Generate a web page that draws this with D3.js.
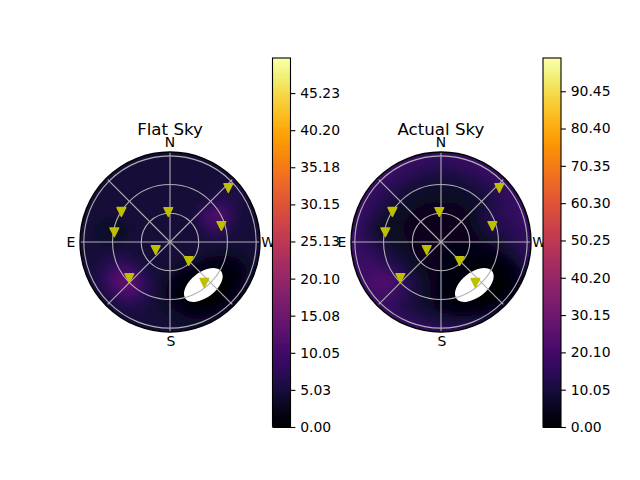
<!DOCTYPE html>
<html>
<head>
<meta charset="utf-8">
<script src="https://d3js.org/d3.v7.min.js"></script>
<style>
body { margin: 0; background: #fff; }
text { font-family: "DejaVu Sans", sans-serif; fill: #000; }
</style>
</head>
<body>
<div id="chart"></div>
<script>
// sky brightness, 17 x 17 samples, rows north to south, columns east to west
const flatSky = [
    [5,5,5,5,5,5,5,5,5,5,5,5,5,5,5,5,5],
    [5,5,5,5,5,5,5,5,5,5,5,5,5,5,5,5,5],
    [5,5,5,5,5,5,5,5,5,5,5,5,5,5,5,5,5],
    [5,5,5,5,5,5,5,5,5,5,5,5,5,5.5,5,5,5],
    [5,5,5,5,5,5,5,5,5,5,5,5,6,6,5.5,5,5],
    [5,5,5,5,5,5,5,5,5,5,5,6.5,8,6.5,5,5,5],
    [5,5,5,4.5,5,5,5,5,5,5,6,12,13,6,5,5,5],
    [5,5,4.5,3.5,3,4.5,5,5,5,5,5.5,8,8,5.5,5,5,5],
    [5,5,5,4,4,5,5,5,5,5,5,5.5,5.5,5,5,5,5],
    [5,5,5,5.5,6.5,5.5,5,5,5,5,5,4,3.5,3.5,4.5,5,5],
    [5,5,5.5,7,10,8,6,5,4.5,3.5,2.5,1,1,1.5,3.5,5,5],
    [5,5,5.5,8,14,16,8,5,3,1,0,0,0,1.5,4,5,5],
    [5,5,5,6,9,11,7.5,5,2.5,0.5,0,0,0.5,2.5,4.5,5,5],
    [5,5,5,5,5.5,6.5,6,4.5,3.5,2,1,1,2.5,4,5,5,5],
    [5,5,5,5,5,5,5,5,4.5,4,3.5,4,4.5,5,5,5,5],
    [5,5,5,5,5,5,5,5,5,5,5,5,5,5,5,5,5],
    [5,5,5,5,5,5,5,5,5,5,5,5,5,5,5,5,5]
];
const actualSky = [
    [18,18,18,18,18,18,18,18,18,18,18,18,18,18,18,18,18],
    [18,18,18,18,18,18,18,18,18,18,18,18,18,18,18,18,18],
    [18,18,18,18,18,18,17,16,15,16,17,18,18,18,18,18,18],
    [18,18,18,18,18,16,13,11,11,11,13,15,17,18,18,18,18],
    [18,18,18,17,14,11,9,8,8,8,9,11,14,17,18,18,18],
    [18,18,18,15,11,8,7,6,6,6,7,9,12,16,18,18,18],
    [18,18,17,12,8,7,5.5,5,5,5,5.5,10,14,15,18,18,18],
    [18,18,15,8,6,6,5.5,5,5,5,5.5,8,13,13,16,18,18],
    [18,18,16,11,8,7,5.5,5,5,5,5,6,8,11,15,18,18],
    [18,18,18,15,12,9,6,5,5,4,4,3.5,4,7,12,17,18],
    [18,18,19,19,16,12,8,6,5,3,2,1,1.5,2.5,6.5,14,18],
    [18,18,20,24,25,17,11,7,4,2,0.5,0,0,1.5,5.5,12,18],
    [18,18,18,20,20,16,11,7,4,1.5,0,0,0.5,2.5,7,13,18],
    [18,18,18,18,17,13,10,8,5,3,2,2.5,4.5,8,12,16,18],
    [18,18,18,18,18,17,15,12,10,9,9,10,12,15,18,18,18],
    [18,18,18,18,18,18,18,18,17,17,17,18,18,18,18,18,18],
    [18,18,18,18,18,18,18,18,18,18,18,18,18,18,18,18,18]
];

// satellites: azimuth (deg, N through E) and zenith angle (deg)
const satAzimuth = [312.8, 58.3, 3.2, 80.1, 287.3, 119.2, 224.5, 131.5, 220];
const satZenith = [83, 59.7, 31.4, 59, 56.2, 17.1, 27.8, 56.7, 55.8];

const compassNames = ["N", "E", "S", "W"];
const zenithTicks = [30, 60, 90];
const gridAzimuths = [0, 45, 90, 135, 180, 225, 270, 315];

const flatTicks = [0, 5.03, 10.05, 15.08, 20.10, 25.13, 30.15, 35.18, 40.20, 45.23];
const actualTicks = [0, 10.05, 20.10, 30.15, 40.20, 50.25, 60.30, 70.35, 80.40, 90.45];

// the masked sun patch
const sunAzimuth = 217.8, sunZenith = 56.8, sunLong = 22.5, sunShort = 12.5, sunTilt = -37.5;

const width = 640, height = 480;
const cy = 242, radius = 90, zenithMax = 94;
const barTop = 58, barBottom = 427, barWidth = 18;
const gridColor = "#b0b0b0", markerColor = "#bfbf00";

const svg = d3.select("#chart").append("svg")
    .attr("width", width)
    .attr("height", height)
    .style("display", "block");

const r = d3.scaleLinear().domain([0, zenithMax]).range([0, radius]);

// sky position to pixel offset, north up and east on the left
function polar(az, zen) {
    const a = az * Math.PI / 180;
    return [-r(zen) * Math.sin(a), -r(zen) * Math.cos(a)];
}

function drawPanel(id, cx, titleText, grid, maxValue, ticks, barX) {
    const color = d3.scaleSequential(d3.interpolateInferno).domain([0, maxValue]);
    const g = svg.append("g").attr("transform", `translate(${cx},${cy})`);

    const defs = g.append("defs");
    defs.append("clipPath").attr("id", "clip-" + id)
        .append("circle").attr("r", radius);
    defs.append("filter").attr("id", "blur-" + id)
        .attr("filterUnits", "userSpaceOnUse")
        .attr("x", -104).attr("y", -104).attr("width", 208).attr("height", 208)
        .append("feGaussianBlur").attr("stdDeviation", 5);

    // heat map
    const n = grid.length;
    const pos = d3.scaleLinear().domain([0, n - 1]).range([-104, 104]);
    const contours = d3.contours()
        .size([n, n])
        .thresholds(d3.range(0, maxValue, maxValue / 200))(grid.flat());
    const path = d3.geoPath(d3.geoTransform({
        point(x, y) { this.stream.point(pos(x - 0.5), pos(y - 0.5)); }
    }));
    const sky = g.append("g").attr("clip-path", `url(#clip-${id})`);
    sky.append("g")
        .attr("filter", `url(#blur-${id})`)
        .selectAll("path")
        .data(contours)
        .enter()
        .append("path")
        .attr("d", path)
        .attr("fill", d => color(d.value));

    const sun = polar(sunAzimuth, sunZenith);
    sky.append("ellipse")
        .attr("transform", `translate(${sun[0]},${sun[1]}) rotate(${sunTilt})`)
        .attr("rx", sunLong)
        .attr("ry", sunShort)
        .attr("fill", "#fff");

    // grid: the diagonals stop at the outer ring, the compass lines run to the edge
    g.selectAll(".spoke")
        .data(gridAzimuths)
        .enter()
        .append("line")
        .attr("class", "spoke")
        .attr("x2", d => polar(d, d % 90 === 0 ? zenithMax : 92)[0])
        .attr("y2", d => polar(d, d % 90 === 0 ? zenithMax : 92)[1])
        .attr("stroke", gridColor)
        .attr("stroke-width", 1.1);

    g.selectAll(".ring")
        .data(zenithTicks)
        .enter()
        .append("circle")
        .attr("class", "ring")
        .attr("r", d => r(d))
        .attr("fill", "none")
        .attr("stroke", gridColor)
        .attr("stroke-width", 1.1);

    // satellites
    g.selectAll(".sat")
        .data(satAzimuth)
        .enter()
        .append("path")
        .attr("class", "sat")
        .attr("d", "M-4.4,-4.4L4.4,-4.4L0,4.4Z")
        .attr("transform", (d, i) => `translate(${polar(d, satZenith[i])})`)
        .attr("fill", markerColor)
        .attr("stroke", markerColor)
        .attr("stroke-width", 1.39)
        .attr("stroke-linejoin", "round");

    // outline
    g.append("circle")
        .attr("r", radius)
        .attr("fill", "none")
        .attr("stroke", "#000")
        .attr("stroke-width", 1.4);

    // compass labels
    const labelPos = [[0, -100], [-99, 0], [1, 99], [98, 0]];
    g.selectAll(".compass")
        .data(compassNames)
        .enter()
        .append("text")
        .attr("class", "compass")
        .attr("x", (d, i) => labelPos[i][0])
        .attr("y", (d, i) => labelPos[i][1])
        .attr("dy", "0.36em")
        .attr("text-anchor", "middle")
        .attr("font-size", "13.9px")
        .text(d => d);

    g.append("text")
        .attr("x", 0)
        .attr("y", -107)
        .attr("text-anchor", "middle")
        .attr("font-size", "16.67px")
        .text(titleText);

    // colorbar
    const y = d3.scaleLinear().domain([0, maxValue]).range([barBottom, barTop]);
    const bar = svg.append("g").attr("shape-rendering", "crispEdges");
    const levels = d3.range(0, maxValue, maxValue / 256);
    bar.selectAll("rect")
        .data(levels)
        .enter()
        .append("rect")
        .attr("x", barX)
        .attr("y", d => y(d + maxValue / 256))
        .attr("width", barWidth)
        .attr("height", d => y(d) - y(d + maxValue / 256) + 1)
        .attr("fill", d => color(d));
    svg.append("rect")
        .attr("x", barX)
        .attr("y", barTop)
        .attr("width", barWidth)
        .attr("height", barBottom - barTop)
        .attr("fill", "none")
        .attr("stroke", "#000")
        .attr("stroke-width", 1.1);

    const axis = svg.append("g")
        .attr("transform", `translate(${barX + barWidth},0)`)
        .call(d3.axisRight(y).tickValues(ticks).tickFormat(d3.format(".2f")).tickSize(4.86).tickPadding(4.86));
    axis.select(".domain").remove();
    axis.selectAll("line").attr("stroke", "#000").attr("stroke-width", 1.1);
    axis.selectAll("text")
        .attr("font-size", "13.9px")
        .attr("font-family", "DejaVu Sans");
}

drawPanel("flat", 170, "Flat Sky", flatSky, 49.98, flatTicks, 272.5);
drawPanel("actual", 441, "Actual Sky", actualSky, 99.4, actualTicks, 543);
</script>
</body>
</html>
